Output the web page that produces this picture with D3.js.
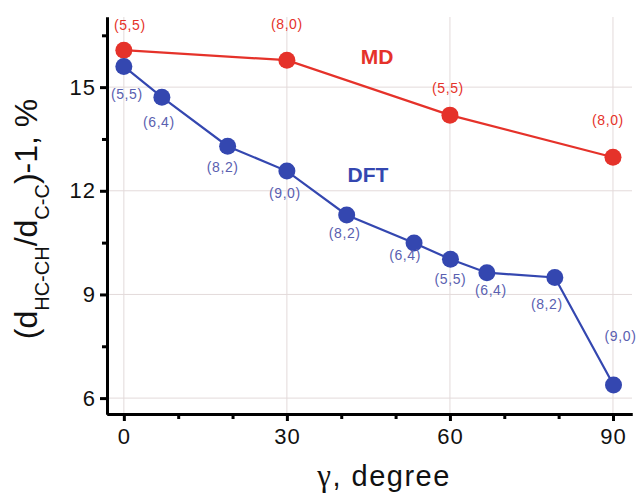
<!DOCTYPE html>
<html>
<head>
<meta charset="utf-8">
<script src="https://cdn.jsdelivr.net/npm/d3@7"></script>
<style>
  body { margin: 0; background: #fff; }
  text { font-family: "Liberation Sans", Arial, sans-serif; }
</style>
</head>
<body>
<svg id="chart" width="639" height="496"></svg>
<script>
// ─── data ───
const mdAngle = [0, 30, 60, 90];
const mdValue = [16.07, 15.78, 14.19, 12.97];
const mdLabel = ['(5,5)', '(8,0)', '(5,5)', '(8,0)'];

const dftAngle = [0, 7, 19.1, 30, 41, 53.4, 60.1, 66.8, 79.3, 90.1];
const dftValue = [15.6, 14.71, 13.29, 12.57, 11.3, 10.49, 10.02, 9.63, 9.49, 6.38];
const dftLabel = ['(5,5)', '(6,4)', '(8,2)', '(9,0)', '(8,2)', '(6,4)', '(5,5)', '(6,4)', '(8,2)', '(9,0)'];

const xTicks = [0, 30, 60, 90];
const yTicks = [6, 9, 12, 15];

// label offsets (dx, dy) from the marker centre, in px
const mdOff = [[6, -25], [0, -36], [-2, -27], [-5, -37]];
const dftOff = [[3, 28], [-3, 25], [-5, 21], [-2, 22], [-2, 18], [-9, 12], [0, 20], [4, 17], [-8, 26], [7, -49]];

const red = '#e5322a', blue = '#3447b0', blueText = '#5a60b0';

const svg = d3.select('#chart');
const x = d3.scaleLinear().domain([-3.1, 93.5]).range([107, 632]);
const y = d3.scaleLinear().domain([5.54, 17.03]).range([414, 17]);

// grid
const grid = svg.append('g').attr('stroke', '#e3dada').attr('stroke-width', 1);
grid.selectAll('.gx').data(xTicks).enter().append('line')
  .attr('x1', d => x(d)).attr('x2', d => x(d)).attr('y1', y.range()[0]).attr('y2', y.range()[1]);
grid.selectAll('.gy').data(yTicks).enter().append('line')
  .attr('y1', d => y(d)).attr('y2', d => y(d)).attr('x1', x.range()[0]).attr('x2', x.range()[1]);

// axes
const xAxis = svg.append('g').attr('transform', `translate(0,${y.range()[0]})`)
  .call(d3.axisBottom(x).tickValues(xTicks).tickSize(7).tickSizeOuter(0).tickPadding(7));
const xMinor = svg.append('g').attr('transform', `translate(0,${y.range()[0]})`)
  .call(d3.axisBottom(x).tickValues([10, 20, 40, 50, 70, 80]).tickSize(5).tickSizeOuter(0).tickFormat(''));
const yAxis = svg.append('g').attr('transform', `translate(${x.range()[0]},0)`)
  .call(d3.axisLeft(y).tickValues(yTicks).tickSize(7).tickSizeOuter(0).tickPadding(4));
const yMinor = svg.append('g').attr('transform', `translate(${x.range()[0]},0)`)
  .call(d3.axisLeft(y).tickValues([7.5, 10.5, 13.5, 16.5]).tickSize(5).tickSizeOuter(0).tickFormat(''));

[xAxis, xMinor, yAxis, yMinor].forEach(g => {
  g.select('.domain').attr('stroke', '#000').attr('stroke-width', 3);
  g.selectAll('.tick line').attr('stroke', '#000').attr('stroke-width', 3);
  g.selectAll('.tick text').attr('font-size', 22).attr('fill', '#111')
    .attr('letter-spacing', 1)
    .style('font-family', '"Liberation Sans", Arial, sans-serif');
});

// series
const line = d3.line().x(d => x(d[0])).y(d => y(d[1]));
function drawSeries(xs, vs, labels, offs, color, textColor) {
  const pts = xs.map((v, i) => [v, vs[i]]);
  svg.append('path').datum(pts).attr('d', line)
    .attr('fill', 'none').attr('stroke', color).attr('stroke-width', 2.2);
  svg.append('g').selectAll('circle').data(pts).enter().append('circle')
    .attr('cx', d => x(d[0])).attr('cy', d => y(d[1])).attr('r', 8.5).attr('fill', color);
  svg.append('g').selectAll('text').data(pts).enter().append('text')
    .attr('x', (d, i) => x(d[0]) + offs[i][0])
    .attr('y', (d, i) => y(d[1]) + offs[i][1] + 5)
    .attr('text-anchor', 'middle').attr('font-size', 14).attr('letter-spacing', 0.6)
    .attr('fill', textColor)
    .text((d, i) => labels[i]);
}
drawSeries(mdAngle, mdValue, mdLabel, mdOff, red, red);
drawSeries(dftAngle, dftValue, dftLabel, dftOff, blue, blueText);

// series names
svg.append('text').attr('x', 377).attr('y', 64).attr('text-anchor', 'middle')
  .attr('font-size', 21).attr('font-weight', 'bold').attr('fill', red).text('MD');
svg.append('text').attr('x', 368).attr('y', 182).attr('text-anchor', 'middle')
  .attr('font-size', 21).attr('font-weight', 'bold').attr('fill', blue).text('DFT');

// axis titles
const xt = svg.append('text').attr('x', 384).attr('y', 486).attr('text-anchor', 'middle')
  .attr('font-size', 29).attr('letter-spacing', 1.5).attr('fill', '#111');
xt.append('tspan').style('font-family', '"Liberation Serif", "DejaVu Serif", serif').attr('font-size', 31).text('γ');
xt.append('tspan').text(', degree');

const yt = svg.append('text').attr('transform', 'translate(37,219) rotate(-90)')
  .attr('text-anchor', 'middle').attr('font-size', 32).attr('fill', '#111');
yt.append('tspan').text('(d');
yt.append('tspan').attr('font-size', 20).attr('dy', 12).text('HC-CH');
yt.append('tspan').attr('dy', -12).text('/d');
yt.append('tspan').attr('font-size', 20).attr('dy', 12).text('C-C');
yt.append('tspan').attr('dy', -12).text(')-1, %');
</script>
</body>
</html>
